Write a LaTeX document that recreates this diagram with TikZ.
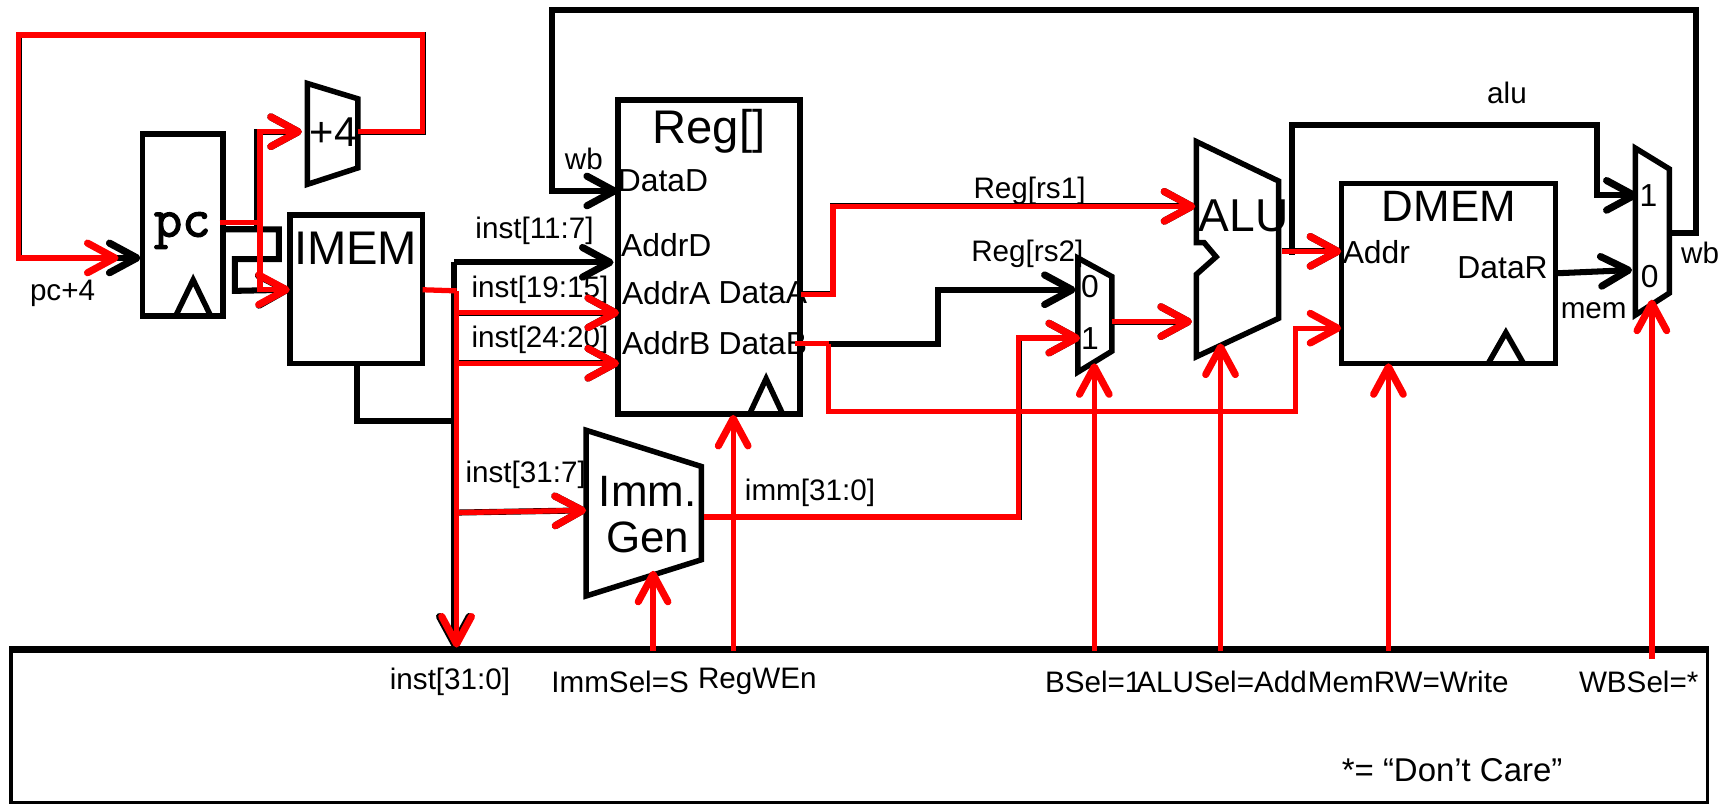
\documentclass[tikz,border=0pt]{standalone}
\usepackage{fontspec}
\setmainfont{Liberation Sans}
\newfontfamily\pcfont[FakeBold=2.5]{Latin Modern Mono}
\usepackage{tikz}
\usetikzlibrary{arrows.meta}
\definecolor{HotRed}{HTML}{FF0000}
\tikzset{
  x=1pt,y=-1pt,
  >={Straight Barb[length=25pt,width=27pt,line width=6.5pt,round]},
  block/.style={draw=black,line width=5pt,fill=white,inner sep=0pt},
  outline/.style={draw=black,line width=5pt,line join=miter},
  wire/.style={draw=black,line width=5.5pt},
  hot/.style={draw=HotRed,line width=4.8pt},
  lab/.style={font=\fontsize{27}{30}\selectfont,inner sep=0pt},
  port/.style={font=\fontsize{29}{32}\selectfont,inner sep=0pt},
  title/.style={font=\fontsize{40}{44}\selectfont,inner sep=0pt,align=center},
}
\begin{document}
\begin{tikzpicture}
  \useasboundingbox (0,0) rectangle (1568,732.5);
  % control box
  \node[draw=black,line width=3pt,minimum width=1546pt,minimum height=138pt,inner sep=0pt] (ctrl) at (783,662) {};
  \draw[line width=6pt] (ctrl.north west) -- (ctrl.north east);
  % blocks
  \node[block,minimum width=73pt,minimum height=166pt] (pc) at (166.5,205) {};
  \node[block,minimum width=121pt,minimum height=135pt] (imem) at (324.5,263.5) {};
  \node[block,minimum width=166pt,minimum height=286pt] (regs) at (646,234) {};
  \node[block,minimum width=195pt,minimum height=164pt] (dmem) at (1319.5,249) {};
  \draw[outline] (280,76) -- (326,90) -- (326,153) -- (280,168) -- cycle;
  \draw[outline] (534,392) -- (639,425) -- (639,510) -- (534,543) -- cycle;
  \draw[outline] (982,235) -- (1013,252) -- (1013,320) -- (982,339) -- cycle;
  \draw[outline] (1090,129) -- (1165,165) -- (1165,290) -- (1090,325) -- (1090,250)
    -- (1108,234) -- (1097,221) -- (1090,221) -- cycle;
  \draw[outline] (1490,135) -- (1521,154) -- (1521,267) -- (1490,287) -- cycle;
  % clock marks
  \draw[outline] (160,288) -- (176,255) -- (192,288);
  \draw[outline] (683,377) -- (698,345) -- (713,377);
  \draw[outline] (1356,331) -- (1372,303) -- (1388,331);
  % block names
  \node[font=\pcfont\fontsize{50}{52}\selectfont,inner sep=0pt,anchor=base] (pcname) at (166,215.5) {pc};
  \node[font=\fontsize{38}{40}\selectfont,inner sep=0pt] (plusname) at (304,120) {+4};
  \node[font=\fontsize{43}{46}\selectfont,inner sep=0pt] (imemname) at (324,226) {IMEM};
  \node[font=\fontsize{43}{46}\selectfont,inner sep=0pt] (regsname) at (646,120) {Reg[]};
  \node[title] (immname) at (590,469) {Imm.\\[-2pt]Gen};
  \node[font=\fontsize{42}{44}\selectfont,inner sep=0pt] (aluname) at (1133,197) {ALU};
  \node[title] (dmemname) at (1320,188) {DMEM};
  % port labels
  \node[port] (pdatad) at (604,165) {DataD};
  \node[port] (paddrd) at (607,223) {AddrD};
  \node[port] (paddra) at (607,267) {AddrA};
  \node[port] (paddrb) at (607,313) {AddrB};
  \node[port] (pdataa) at (695,267) {DataA};
  \node[port] (pdatab) at (695,313) {DataB};
  \node[port] (pzero) at (993,261) {0};
  \node[port] (pone) at (993,308) {1};
  \node[port] (paddr) at (1254,230) {Addr};
  \node[port] (pdatar) at (1369,244) {DataR};
  \node[port] (wbone) at (1502,178) {1};
  \node[port] (wbzero) at (1503,252) {0};
  % wire labels
  \node[lab] (lpcnext) at (57,267) {pc+4};
  \node[lab] (lwbtop) at (532,145) {wb};
  \node[lab] (lrd) at (487,210) {inst[11:7]};
  \node[lab] (lrsa) at (492,264) {inst[19:15]};
  \node[lab] (lrsb) at (492,310) {inst[24:20]};
  \node[lab] (limmin) at (479,433) {inst[31:7]};
  \node[lab] (limmout) at (738,449) {imm[31:0]};
  \node[lab] (lrega) at (938,174) {Reg[rs1]};
  \node[lab] (lregb) at (936,231) {Reg[rs2]};
  \node[lab] (lalu) at (1373,85) {alu};
  \node[lab] (lmem) at (1452,283) {mem};
  \node[lab] (lwb) at (1549,230) {wb};
  % control labels
  \node[lab] (cinst) at (410,621) {inst[31:0]};
  \node[lab] (cimm) at (565,621) {ImmSel=S};
  \node[lab] (creg) at (690,621) {RegWEn};
  \node[lab] (cb) at (996,621) {BSel=1};
  \node[lab] (calu) at (1113,621) {ALUSel=Add};
  \node[lab] (cmem) at (1283,621) {MemRW=Write};
  \node[lab] (cwb) at (1493,621) {WBSel=*};
  \node[font=\fontsize{30}{32}\selectfont,inner sep=0pt] (cnote) at (1323,702) {*= “Don’t Care”};
  % wire ends
  \coordinate (plusout) at (326,120);
  \coordinate (pcin) at (128,235);
  \coordinate (pcinred) at (108,235);
  \coordinate (plusin) at (275,120);
  \coordinate (pcout) at (204,209);
  \coordinate (pcoutred) at (200,203);
  \coordinate (imemin) at (264,264);
  \coordinate (imemout) at (385,264);
  \coordinate (busin) at (416,265);
  \coordinate (bustop) at (414,239);
  \coordinate (busdown) at (414,590);
  \coordinate (busred) at (416,590);
  \coordinate (inrd) at (559,239);
  \coordinate (tapa) at (416,285);
  \coordinate (inra) at (564,285);
  \coordinate (tapb) at (416,331);
  \coordinate (inrb) at (564,331);
  \coordinate (tapi) at (416,467);
  \coordinate (inimm) at (534,465);
  \coordinate (imemlow) at (325,331);
  \coordinate (buslow) at (414,384);
  \coordinate (wbout) at (1521,212);
  \coordinate (indatad) at (563,174);
  \coordinate (dataaout) at (730,268);
  \coordinate (inalua) at (1089,188);
  \coordinate (databout) at (724,313);
  \coordinate (databturn) at (755,313);
  \coordinate (inzero) at (980,264);
  \coordinate (inaddrb) at (1222,299);
  \coordinate (immout) at (641,471);
  \coordinate (inone) at (984,308);
  \coordinate (bmuxout) at (1013,293);
  \coordinate (inalub) at (1086,293);
  \coordinate (aluout) at (1168,229);
  \coordinate (inaddr) at (1222,229);
  \coordinate (alutap) at (1177,232);
  \coordinate (inwba) at (1492,178);
  \coordinate (datarout) at (1418,249);
  \coordinate (inwbb) at (1487,246);
  % black wires
  \draw[wire,->] (plusout) -- (385,120) -- (385,32) -- (17,32) -- (17,235) -- (pcin);
  \draw[wire,->] (pcout) -- (234,209) -- (234,120) -- (plusin);
  \draw[wire,->] (pcout) -- (254,209) -- (254,236) -- (214,236) -- (214,265) -- (imemin);
  \draw[wire,->] (busdown |- bustop) -- (inrd);
  \draw[wire,->] (bustop) -- (busdown);
  \draw[wire] (imemlow) |- (buslow);
  \draw[wire,->] (tapa) -- (inra);
  \draw[wire,->] (tapb) -- (inrb);
  \draw[wire,->] (tapi) -- (inimm);
  \draw[wire,->] (wbout) -- (1545,212) -- (1545,9) -- (503,9) -- (503,174) -- (indatad);
  \draw[wire,->] (dataaout) -- (759,268) -- (759,188) -- (inalua);
  \draw[wire,->] (databturn) -- (855,313) -- (855,264) -- (inzero);
  \draw[wire,->] (immout) -- (928,471) -- (928,308) -- (inone);
  \draw[wire,->] (bmuxout) -- (inalub);
  \draw[wire,->] (aluout) -- (inaddr);
  \draw[wire,->] (alutap) -- (1177,114) -- (1455,114) -- (1455,178) -- (inwba);
  \draw[wire,->] (datarout) -- (inwbb);
  % red wires
  \draw[hot,->] (plusout) -- (385,120) -- (385,32) -- (17,32) -- (17,235) -- (pcinred);
  \draw[hot] (pcoutred) -- (237,203);
  \draw[hot,->] (237,203) -- (237,120) -- (plusin);
  \draw[hot,->] (237,203) -- (237,264) -- (imemin);
  \draw[hot] (imemout) -- (busin);
  \draw[hot,->] (busin) -- (busred);
  \draw[hot,->] (tapa) -- (inra);
  \draw[hot,->] (tapb) -- (inrb);
  \draw[hot,->] (tapi) -- (inimm);
  \draw[hot,->] (dataaout) -- (759,268) -- (759,188) -- (inalua);
  \draw[hot] (databout) -- (databturn);
  \draw[hot,->] (databturn) -- (755,375) -- (1180,375) -- (1180,299) -- (inaddrb);
  \draw[hot,->] (immout) -- (928,471) -- (928,308) -- (inone);
  \draw[hot,->] (bmuxout) -- (inalub);
  \draw[hot,->] (aluout) -- (inaddr);
  % control arrows
  \draw[hot,->] (595,593) -- (595,520);
  \draw[hot,->] (668,593) -- (668,378);
  \draw[hot,->] (997,593) -- (997,331);
  \draw[hot,->] (1112,593) -- (1112,313);
  \draw[hot,->] (1265,593) -- (1265,331);
  \draw[hot,->] (1505,600) -- (1505,273);
\end{tikzpicture}
\end{document}
